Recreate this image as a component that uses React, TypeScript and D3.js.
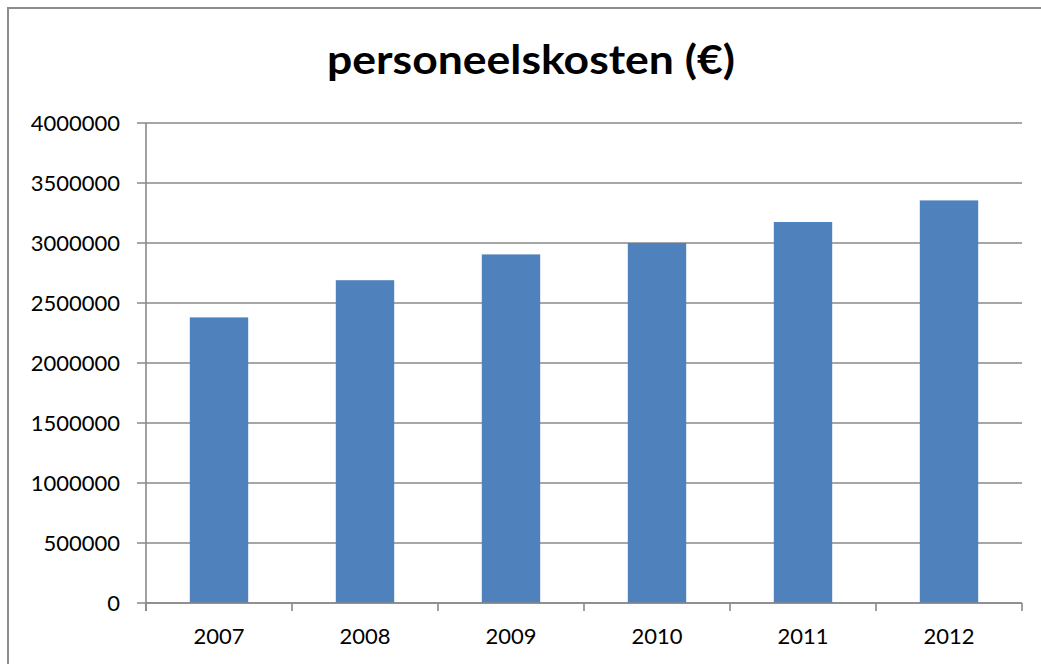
import React, {useEffect, useRef} from 'react'
import * as d3 from 'd3';

const years = ['2007', '2008', '2009', '2010', '2011', '2012'];
const costs = [2380000, 2690000, 2905000, 3000000, 3175000, 3355000];
const yTicks = [0, 500000, 1000000, 1500000, 2000000, 2500000, 3000000, 3500000, 4000000];
const title = 'personeelskosten (€)';

export default function App(){
    const svgRef = useRef<SVGSVGElement | null>(null);

    const W = 1041, H = 664;
    const plot = {left: 146, right: 1022, top: 123, bottom: 603};

    useEffect(() => {
        const svg = d3.select(svgRef.current);
        svg.selectAll('*').remove();

        const data = years.map((y, i) => ({year: y, value: costs[i]}));

        const xscale = d3.scaleBand<string>()
            .domain(years)
            .range([plot.left, plot.right])
            .paddingInner(0.6)
            .paddingOuter(0.3);

        const yscale = d3.scaleLinear()
            .domain([0, 4000000])
            .range([plot.bottom, plot.top]);

        const grey = '#898989';
        const font = 'Lato, "Open Sans", sans-serif';

        // chart border (runs off the right and bottom edge)
        svg.append('rect')
            .attr('x', 8).attr('y', 8)
            .attr('width', 1200).attr('height', 800)
            .attr('fill', 'white')
            .attr('stroke', '#8c8c8c')
            .attr('stroke-width', 2);

        svg.append('text')
            .attr('x', 531)
            .attr('y', 74)
            .attr('text-anchor', 'middle')
            .attr('font-family', font)
            .attr('font-weight', 'bold')
            .attr('font-size', 40)
            .attr('textLength', 408)
            .attr('lengthAdjust', 'spacingAndGlyphs')
            .attr('fill', '#000')
            .text(title);

        // gridlines + left ticks
        svg.append('g')
            .selectAll('line')
            .data(yTicks)
            .join('line')
            .attr('x1', plot.left - 9)
            .attr('x2', plot.right)
            .attr('y1', d => yscale(d))
            .attr('y2', d => yscale(d))
            .attr('stroke', grey)
            .attr('stroke-width', 1.6);

        svg.append('g')
            .selectAll('text')
            .data(yTicks)
            .join('text')
            .attr('x', 120)
            .attr('y', d => yscale(d))
            .attr('dy', '0.36em')
            .attr('text-anchor', 'end')
            .attr('font-family', font)
            .attr('font-size', 22)
            .attr('fill', '#000')
            .text(d => String(d));

        // bars
        svg.append('g')
            .selectAll('rect')
            .data(data)
            .join('rect')
            .attr('x', d => xscale(d.year)!)
            .attr('y', d => yscale(d.value))
            .attr('width', xscale.bandwidth())
            .attr('height', d => yscale(0) - yscale(d.value))
            .attr('fill', '#4f81bd');

        // axis lines
        svg.append('line')
            .attr('x1', plot.left).attr('x2', plot.left)
            .attr('y1', plot.top).attr('y2', plot.bottom + 8)
            .attr('stroke', grey).attr('stroke-width', 1.6);

        svg.append('line')
            .attr('x1', plot.left).attr('x2', plot.right)
            .attr('y1', plot.bottom).attr('y2', plot.bottom)
            .attr('stroke', grey).attr('stroke-width', 1.6);

        const step = xscale.step();
        const boundaries = d3.range(years.length + 1).map(i => plot.left + i * step);
        svg.append('g')
            .selectAll('line')
            .data(boundaries)
            .join('line')
            .attr('x1', d => d).attr('x2', d => d)
            .attr('y1', plot.bottom).attr('y2', plot.bottom + 8)
            .attr('stroke', grey).attr('stroke-width', 1.6);

        svg.append('g')
            .selectAll('text')
            .data(years)
            .join('text')
            .attr('x', d => xscale(d)! + xscale.bandwidth() / 2)
            .attr('y', 636)
            .attr('dy', '0.36em')
            .attr('text-anchor', 'middle')
            .attr('font-family', font)
            .attr('font-size', 22)
            .attr('fill', '#000')
            .text(d => d);
    });

    return (
        <svg
            ref={svgRef}
            width={W}
            height={H}
            style={{position: 'absolute', left: 0, top: 0, background: 'white'}}
        />
    );
}
